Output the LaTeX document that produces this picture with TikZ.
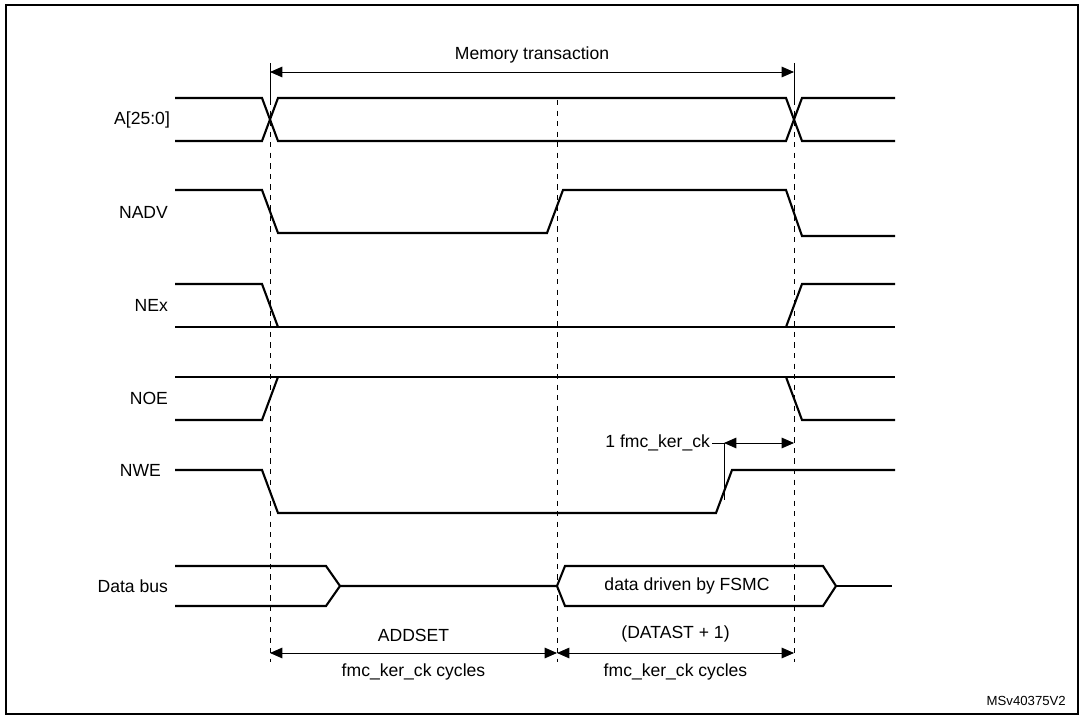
\documentclass[tikz,border=0pt]{standalone}
\usepackage{fontspec}
\setmainfont{Liberation Sans}
\usetikzlibrary{arrows.meta,positioning}
\tikzset{
  wave/.style={line width=1.2pt},
  guide/.style={dashed,line width=0.5pt},
  dim/.style={line width=0.5pt,{Triangle[length=7pt,width=6pt]}-{Triangle[length=7pt,width=6pt]}},
  lbl/.style={font=\fontsize{10}{12}\selectfont,inner sep=1pt}
}
\begin{document}
\begin{tikzpicture}[x=0.02cm,y=-0.02cm]
\useasboundingbox (0,0) rectangle (1085,719);
\draw[line width=1.1pt] (6,5) rectangle (1078,714);
% timing guides
\coordinate (g1t) at (270,63); \coordinate (g1b) at (270,662);
\coordinate (g2t) at (557,100); \coordinate (g2b) at (557,662);
\coordinate (g3t) at (794,63); \coordinate (g3b) at (794,662);
\draw[line width=0.5pt] (g1t) -- (270,100);
\draw[line width=0.5pt] (g3t) -- (794,100);
\draw[guide] (270,100) -- (g1b);
\draw[guide] (g2t) -- (g2b);
\draw[guide] (794,100) -- (g3b);
\draw[dim] (270,72) -- node[lbl,above=4pt] {Memory transaction} (794,72);
% A[25:0]
\node[lbl,anchor=east] (a) at (172,120) {A[25:0]};
\draw[wave] (175,98) -- (262,98) -- (278,141) -- (786,141) -- (802,98) -- (895,98);
\draw[wave] (175,141) -- (262,141) -- (278,98) -- (786,98) -- (802,141) -- (895,141);
% NADV
\node[lbl,anchor=east] (nadv) at (170,212) {NADV};
\draw[wave] (175,190) -- (262,190) -- (278,233) -- (547,233) -- (563,190) -- (786,190) -- (802,236) -- (895,236);
% NEx
\node[lbl,anchor=east] (nex) at (170,305) {NEx};
\draw[wave] (175,284) -- (262,284) -- (278,327);
\draw[wave] (175,327) -- (895,327);
\draw[wave] (786,327) -- (802,284) -- (895,284);
% NOE
\node[lbl,anchor=east] (noe) at (170,398) {NOE};
\draw[wave] (175,377) -- (895,377);
\draw[wave] (175,420) -- (262,420) -- (278,377);
\draw[wave] (786,377) -- (802,420) -- (895,420);
% NWE
\node[lbl,anchor=east] (nwe) at (163,470) {NWE};
\draw[wave] (175,470) -- (262,470) -- (278,513) -- (716,513) -- (732,470) -- (895,470);
\coordinate (ck) at (724,443);
\node[lbl,anchor=east] (cklbl) at (712,443) {1 fmc\_ker\_ck};
\draw[line width=0.5pt] (cklbl) -- (ck) -- (724,500);
\draw[dim] (ck) -- (794,443);
% Data bus
\node[lbl,anchor=east] (db) at (170,586) {Data bus};
\draw[wave] (175,566) -- (326,566) -- (340,586) -- (326,606) -- (175,606);
\draw[wave] (340,586) -- (557,586) -- (565,566) -- (823,566) -- (836,586) -- (823,606) -- (565,606) -- (557,586);
\draw[wave] (836,586) -- (892,586);
\node[lbl] (fsmc) at (687,586) {data driven by FSMC};
% bottom dimensions
\draw[dim] (270,653) -- node[lbl,above=5pt] {ADDSET} node[lbl,below=5pt] {fmc\_ker\_ck cycles} (557,653);
\draw[dim] (557,653) -- node[lbl,above=5pt] {(DATAST + 1)} node[lbl,below=5pt] {fmc\_ker\_ck cycles} (794,653);
\node[font=\fontsize{7.5}{9}\selectfont,anchor=east] (ref) at (1072,701) {MSv40375V2};
\end{tikzpicture}
\end{document}
